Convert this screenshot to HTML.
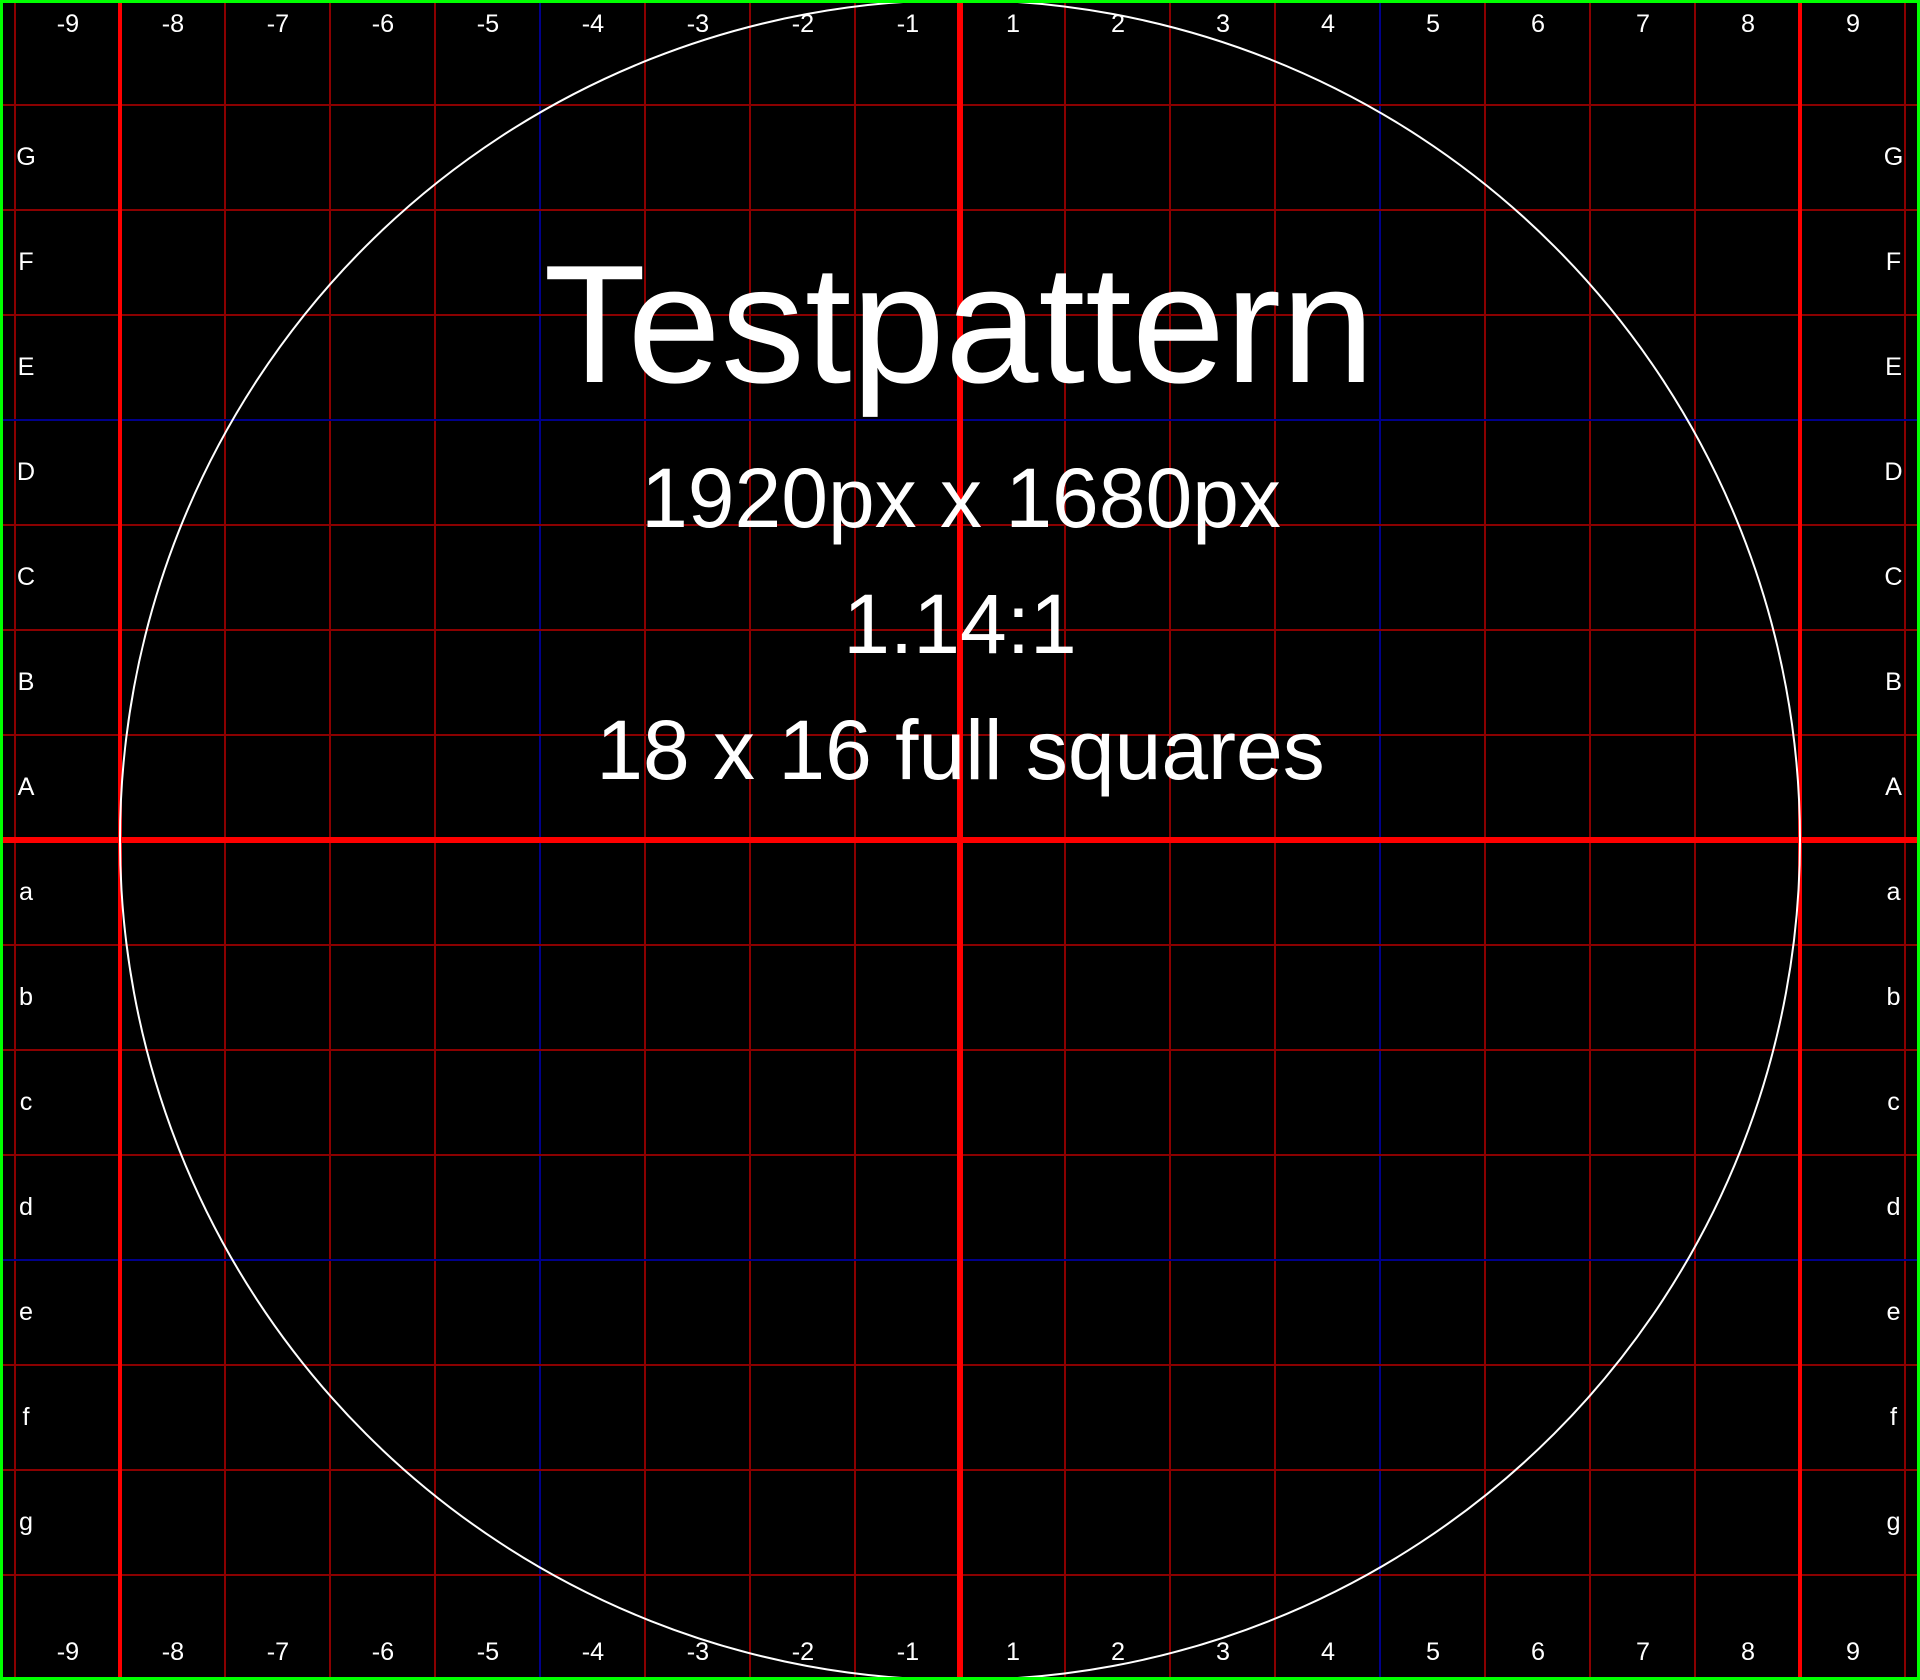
<!DOCTYPE html>
<html lang="en">
<head>
<meta charset="utf-8">
<title>Testpattern</title>
<style>
html,body{margin:0;padding:0;background:#000;}
body{width:1920px;height:1680px;overflow:hidden;}
svg{display:block;position:absolute;left:0;top:0;}
text{font-family:"Liberation Sans",Arial,sans-serif;fill:#fff;text-anchor:middle;}
</style>
</head>
<body>
<svg id="chart" width="1920" height="1680" viewBox="0 0 1920 1680" xmlns="http://www.w3.org/2000/svg">
<rect x="0" y="0" width="1920" height="1680" fill="#000"/>
<g id="grid"></g>
<circle cx="960" cy="840" r="840" fill="none" stroke="#fff" stroke-width="2"/>
<g id="labels"></g>
<text x="959" y="382" font-size="168">Testpattern</text>
<text x="961" y="527" font-size="84">1920px x 1680px</text>
<text x="960" y="653" font-size="84">1.14:1</text>
<text x="960.5" y="779" font-size="84">18 x 16 full squares</text>
<rect x="1.5" y="1.5" width="1917" height="1677" fill="none" stroke="#0f0" stroke-width="3"/>
</svg>
<script>
var columnLabels = ["-9","-8","-7","-6","-5","-4","-3","-2","-1","1","2","3","4","5","6","7","8","9"];
var rowLabels = ["G","F","E","D","C","B","A","a","b","c","d","e","f","g"];
var fineVerticalSteps = [-9,-7,-6,-5,-4,-3,-2,-1,1,2,3,4,5,6,7,9];
var fineHorizontalSteps = [-7,-6,-5,-4,-3,-2,-1,1,2,3,4,5,6,7];
var thickVerticalSteps = [-8,8];
var blueSteps = [-4,4];

var SVG_NS = "http://www.w3.org/2000/svg";
var grid = document.getElementById("grid");
var labels = document.getElementById("labels");
var UNIT = 105;
function xAt(step) { return 960 + step * UNIT; }
function yAt(step) { return 840 + step * UNIT; }
function fineColor(step) { return blueSteps.indexOf(step) >= 0 ? "#00008b" : "#8b0000"; }
function addLine(x1, y1, x2, y2, color, width) {
  var el = document.createElementNS(SVG_NS, "line");
  el.setAttribute("x1", x1);
  el.setAttribute("y1", y1);
  el.setAttribute("x2", x2);
  el.setAttribute("y2", y2);
  el.setAttribute("stroke", color);
  el.setAttribute("stroke-width", width);
  
  
  grid.appendChild(el);
}
function addLabel(txt, x, y) {
  var el = document.createElementNS(SVG_NS, "text");
  el.setAttribute("x", x);
  el.setAttribute("y", y);
  el.setAttribute("font-size", "25.2");
  el.textContent = txt;
  
  
  labels.appendChild(el);
}
fineVerticalSteps.forEach(function (step) {
  addLine(xAt(step), 0, xAt(step), 1680, fineColor(step), 2);
});
fineHorizontalSteps.forEach(function (step) {
  addLine(0, yAt(step), 1920, yAt(step), fineColor(step), 2);
});
thickVerticalSteps.forEach(function (step) {
  addLine(xAt(step), 0, xAt(step), 1680, "#ff0000", 4);
});
addLine(xAt(0), 0, xAt(0), 1680, "#ff0000", 6);
addLine(0, yAt(0), 1920, yAt(0), "#ff0000", 6);
columnLabels.forEach(function (txt, i) {
  var step = i < 9 ? i - 9 : i - 8;
  var x = xAt(step) + (step < 0 ? 52.5 : -52.5) + 0.5;
  addLabel(txt, x, 32);
  addLabel(txt, x, 1660);
});
rowLabels.forEach(function (txt, i) {
  var y = 165 + i * UNIT;
  addLabel(txt, 26, y);
  addLabel(txt, 1893.5, y);
});
</script>
</body>
</html>
